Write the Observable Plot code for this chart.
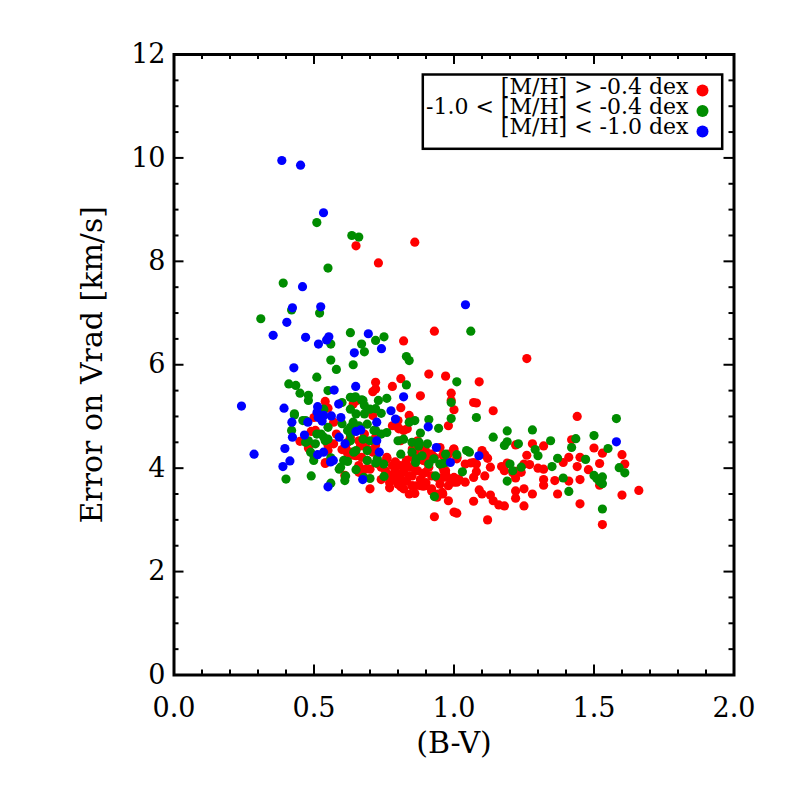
<!DOCTYPE html>
<html><head><meta charset="utf-8">
<script src="https://cdn.jsdelivr.net/npm/d3@7"></script>
<script src="https://cdn.jsdelivr.net/npm/@observablehq/plot@0.6"></script>
<style>html,body{margin:0;padding:0;background:#fff;}</style>
</head><body><div id="chart"></div>
<script>
// [M/H] > -0.4 dex : [B-V, error on Vrad]
const metalRich = [
[0.65,8.30],[0.86,8.37],[0.73,7.97],[0.82,6.46],[0.93,6.65],[1.26,6.12],[0.91,5.82],[0.97,5.78],
[0.72,5.66],[0.72,5.53],[0.71,5.48],[0.78,5.58],[0.81,5.73],[0.88,5.40],[0.81,5.17],[0.54,5.29],
[0.55,5.16],[0.50,4.98],[0.49,4.71],[0.48,4.39],[0.45,4.52],[0.54,4.09],[0.61,3.86],[0.70,3.60],
[0.77,3.62],[0.80,3.69],[0.84,3.50],[0.86,3.51],[0.85,3.66],[0.89,3.65],[0.93,3.06],[0.98,3.37],
[1.00,3.15],[1.09,5.67],[0.99,5.45],[1.00,5.13],[1.07,5.27],[1.08,5.26],[1.14,5.11],[0.98,4.82],
[1.44,5.00],[1.42,4.55],[1.22,4.45],[1.28,4.47],[1.32,4.43],[1.26,4.25],[1.50,4.39],[1.53,4.29],
[1.60,4.26],[1.61,4.08],[1.41,4.21],[1.45,4.21],[1.52,4.09],[1.39,4.11],[1.44,4.03],[1.48,3.97],
[1.45,3.78],[1.52,3.67],[1.41,3.75],[1.36,3.76],[1.37,3.50],[1.32,3.67],[1.28,3.50],[1.25,3.27],
[1.25,3.60],[1.22,3.56],[1.22,3.42],[1.18,3.27],[1.12,3.00],[1.45,3.31],[1.60,3.48],[1.66,3.57],
[1.53,2.91],[1.07,3.36],[1.01,3.13],[1.00,4.37],[1.10,4.34],[1.11,4.26],[1.12,4.19],[1.16,3.29],
[1.14,3.37],[1.13,3.48],[1.10,3.50],[1.09,3.58],[1.17,4.03],[1.19,4.10],[1.18,3.95],[1.13,4.02],
[1.11,3.85],[1.08,3.93],[1.06,4.10],[1.08,4.08],[1.25,4.08],[1.27,4.07],[1.30,4.00],[1.32,3.98],
[1.24,3.92],[1.22,3.94],[1.21,3.91],[0.96,4.02],[0.97,3.89],[1.01,3.73],[1.04,3.73],[0.94,3.50],
[0.96,3.50],[0.57,4.47],[0.60,4.36],[0.62,4.50],[0.63,4.31],[0.65,4.24],[0.67,4.21],[0.69,4.37],
[0.69,4.15],[0.71,4.31],[0.76,4.21],[0.75,4.11],[0.78,4.05],[0.74,4.02],[0.76,3.89],[0.79,3.95],
[0.81,4.05],[0.81,3.89],[0.82,3.92],[0.84,4.02],[0.86,4.08],[0.87,3.95],[0.85,3.85],[0.89,3.89],
[0.91,4.02],[0.92,3.85],[0.94,3.82],[0.97,3.95],[0.82,4.73],[0.80,4.79],[0.87,4.53],[0.88,4.40],
[0.91,4.27],[0.93,4.21],[0.97,4.15],[1.00,3.82],[0.98,3.66],[0.94,3.44],[1.00,3.73],[0.99,5.31],
[0.58,4.66],[0.63,4.60],[0.66,4.53],[0.68,4.66],[0.72,4.60],[0.71,5.02],[0.78,4.82],[0.80,4.92],
[0.84,5.02],[0.57,4.89],[0.64,5.24],[0.55,4.45],[0.55,4.34],[0.62,4.29],[0.64,4.25],[0.80,3.80],
[0.83,3.75],[0.78,3.82],[0.88,3.78],[0.90,3.72],[0.92,3.60],[0.79,4.12],[0.83,4.15],[0.85,4.22],
[0.73,4.08],[0.70,3.98],[0.66,3.92],[0.86,4.32],[0.90,4.13],[0.95,4.40],[0.77,3.72],[0.74,3.78],
[0.82,3.60],[0.84,3.85],[0.96,4.25],[0.89,4.15],[0.92,4.27],[0.95,4.08],[0.98,4.27],[1.01,4.18],
[1.04,4.08],[1.07,4.11],[0.80,3.76],[0.81,3.64],[0.85,3.66],[0.88,3.66],[0.92,3.56],[0.95,3.69],
[0.96,3.82],[0.99,3.76],[1.07,3.82],[1.22,3.81],[1.32,3.78],
[0.505,4.73],[0.613,4.40],[0.666,4.43],[0.684,4.53],[0.702,4.34],[0.541,4.11],[0.684,3.98],[0.654,5.31],
[0.66,4.05],[0.72,4.45],[0.803,4.76],[0.833,4.76],[0.809,4.53],[0.851,4.37],[0.898,4.34],[0.761,4.18],
[0.791,4.11],[0.827,4.05],[0.863,3.95],[0.755,3.95],[0.785,3.89],[0.898,3.92],[0.964,3.95],[0.976,3.82],
[1.011,4.21],[1.017,3.79],[0.999,4.37],[0.809,3.79],[0.863,3.66],[0.898,3.66],[0.958,3.53],[0.91,4.08]
];
// -1.0 < [M/H] < -0.4 dex
const metalMid = [
[0.51,8.75],[0.635,8.50],[0.66,8.47],[0.55,7.87],[0.39,7.58],[0.42,7.06],[0.52,7.00],[0.31,6.89],
[0.63,6.62],[0.75,6.54],[0.72,6.47],[0.56,6.40],[0.67,6.40],[0.68,6.25],[0.83,6.16],[0.84,6.08],
[0.56,6.09],[0.64,6.00],[0.58,5.91],[0.51,5.76],[1.01,5.67],[0.41,5.63],[0.435,5.60],[0.45,5.45],
[0.48,5.41],[0.48,5.31],[0.55,5.50],[0.83,5.61],[0.64,5.36],[0.67,5.32],[0.76,5.35],[0.73,5.31],
[0.43,5.05],[0.42,4.73],[0.40,3.79],[0.49,3.85],[0.46,4.92],[0.48,4.53],[0.50,4.24],[0.59,3.98],
[0.56,3.71],[0.61,3.76],[0.93,3.45],[1.06,6.65],[0.99,5.27],[1.08,4.98],[0.99,4.96],[0.945,4.77],
[1.58,4.96],[1.19,4.72],[1.28,4.74],[1.14,4.60],[1.50,4.63],[1.435,4.57],[1.42,4.40],[1.345,4.53],
[1.19,4.51],[1.18,4.44],[1.23,4.47],[1.29,4.36],[1.30,4.24],[1.55,4.38],[1.59,4.01],[1.61,3.91],
[1.47,4.17],[1.37,4.19],[1.50,3.86],[1.51,3.80],[1.53,3.83],[1.52,3.74],[1.53,3.70],[1.39,3.81],
[1.41,3.55],[1.53,3.21],[1.20,4.08],[1.21,3.95],[1.24,4.02],[1.19,3.75],[1.35,4.03],[1.03,3.93],
[0.97,4.27],[1.01,4.26],[1.045,4.34],[1.055,4.31],[0.96,4.09],[0.91,4.94],[0.88,4.68],[0.60,5.27],
[0.60,4.86],[0.63,4.79],[0.63,4.66],[0.51,4.66],[0.525,4.66],[0.54,4.53],[0.55,4.56],[0.62,4.13],
[0.65,3.97],[0.675,5.31],[0.68,5.21],[0.65,5.05],[0.68,5.05],[0.72,5.15],[0.74,5.06],[0.69,4.85],
[0.66,4.82],[0.64,4.89],[0.72,4.73],[0.74,4.66],[0.76,4.69],[0.84,4.89],[0.86,4.92],[0.80,4.53],
[0.82,4.56],[0.85,4.50],[0.875,4.50],[0.905,4.47],[0.63,4.53],[0.675,4.56],[0.65,4.34],[0.69,4.34],
[0.81,4.27],[0.85,4.31],[0.865,4.18],[0.91,4.08],[0.95,4.08],[0.75,3.84],[0.70,3.80],[0.63,5.37],
[0.55,4.79],[0.43,5.03],[0.47,4.50],
[0.47,4.92],[0.535,5.14],[0.63,5.14],[0.648,5.38],[0.70,5.14],[0.535,4.60],[0.505,4.47],[0.62,4.73],
[0.70,4.53],[0.714,4.73],[0.642,4.31],[0.606,4.15],[0.595,4.02],[0.69,4.15],[0.488,4.31],[0.499,4.15],
[0.613,3.85],[0.678,3.82],[0.749,4.08],[0.56,4.20],[0.72,4.10],[0.874,4.43],[0.886,4.24],[0.863,4.11],
[0.928,4.18],[0.970,4.11],[0.934,3.85],[0.726,4.18]
];
// [M/H] < -1.0 dex
const metalPoor = [
[0.385,9.95],[0.452,9.86],[0.534,8.94],[0.459,7.51],[0.423,7.10],[0.524,7.12],[0.403,6.82],[0.354,6.57],
[0.470,6.53],[0.694,6.60],[0.553,6.54],[0.545,6.48],[0.516,6.40],[0.741,6.31],[0.644,6.23],[1.041,7.16],
[0.428,5.94],[0.572,5.51],[0.649,5.58],[0.820,5.38],[0.241,5.20],[0.393,5.16],[0.513,5.19],[0.588,5.24],
[0.421,4.89],[0.423,4.60],[0.396,4.38],[0.286,4.27],[0.414,4.14],[0.389,4.03],[0.466,4.64],[0.478,4.89],
[0.511,5.08],[0.515,4.98],[0.529,4.91],[0.513,4.26],[0.534,4.31],[0.559,4.12],[0.569,4.15],[0.550,3.64],
[0.596,4.98],[0.562,5.01],[0.590,4.60],[0.611,4.47],[0.650,4.71],[0.667,4.74],[0.724,4.89],[0.724,4.53],
[0.733,4.31],[0.775,5.11],[0.791,4.95],[0.674,3.78],[0.908,4.80],[0.937,4.40],[0.987,4.11],[1.089,4.24],
[1.580,4.51],[0.535,5.02]
];

const seriesColors = ["#ff0000", "#008c00", "#0000ff"];
const legendLabels = ["[M/H] > -0.4 dex", "-1.0 < [M/H] < -0.4 dex", "[M/H] < -1.0 dex"];
const xMajor = [0.0, 0.5, 1.0, 1.5, 2.0];
const xMinor = [0.1,0.2,0.3,0.4,0.6,0.7,0.8,0.9,1.1,1.2,1.3,1.4,1.6,1.7,1.8,1.9];
const yMajor = [0, 2, 4, 6, 8, 10, 12];
const yMinor = [0.5,1,1.5,2.5,3,3.5,4.5,5,5.5,6.5,7,7.5,8.5,9,9.5,10.5,11,11.5];
const xTitle = "(B-V)";
const yTitle = "Error on Vrad [km/s]";

const toRows = arr => arr.map(([bv, err]) => ({bv, err}));

const W = 786, H = 786, mL = 173.5, mR = 52.5, mT = 54, mB = 111.5;
const innerW = W - mL - mR, innerH = H - mT - mB;
const majLen = 10, minLen = 5;
const tickStyle = {stroke: "black", strokeWidth: 2};

const dotMarks = [metalRich, metalMid, metalPoor].map((arr, i) =>
  Plot.dot(toRows(arr), {x: "bv", y: "err", r: 4.6, fill: seriesColors[i], stroke: "none"}));

const legendDots = seriesColors.map((c, i) =>
  Plot.dot([legendLabels[i]], {frameAnchor: "top-right", dx: -31.5, dy: 36 + i * 20.5, r: 6, fill: c}));

const chart = Plot.plot({
  width: W, height: H,
  marginLeft: mL, marginRight: mR, marginTop: mT, marginBottom: mB,
  x: {domain: [0, 2]},
  y: {domain: [0, 12]},
  style: {fontFamily: "'DejaVu Serif', serif", fontSize: "27px", color: "black", background: "white"},
  marks: [
    Plot.axisX(xMajor, {anchor: "bottom", tickSize: 0, tickPadding: 23, tickFormat: d => d.toFixed(1), label: null}),
    Plot.axisY(yMajor, {anchor: "left", tickSize: 0, tickPadding: 8.5, tickFormat: d => String(d), label: null}),
    ...dotMarks,
    Plot.ruleX(xMajor, {x: d => d, insetTop: innerH - majLen, ...tickStyle}),
    Plot.ruleX(xMajor, {x: d => d, insetBottom: innerH - majLen, ...tickStyle}),
    Plot.ruleX(xMinor, {x: d => d, insetTop: innerH - minLen, ...tickStyle}),
    Plot.ruleX(xMinor, {x: d => d, insetBottom: innerH - minLen, ...tickStyle}),
    Plot.ruleY(yMajor, {y: d => d, insetRight: innerW - majLen, ...tickStyle}),
    Plot.ruleY(yMajor, {y: d => d, insetLeft: innerW - majLen, ...tickStyle}),
    Plot.ruleY(yMinor, {y: d => d, insetRight: innerW - minLen, ...tickStyle}),
    Plot.ruleY(yMinor, {y: d => d, insetLeft: innerW - minLen, ...tickStyle}),
    Plot.frame({stroke: "black", strokeWidth: 3}),
    Plot.frame({insetLeft: 248.8, insetRight: 11.8, insetTop: 20, insetBottom: innerH - 94.3, fill: "white", stroke: "black", strokeWidth: 2.5}),
    Plot.text([legendLabels.join("\n")], {frameAnchor: "top-right", textAnchor: "end", lineAnchor: "top", dx: -45.5, dy: 25.4, fontSize: 22, lineHeight: 20 / 22, fill: "black"}),
    ...legendDots,
    Plot.text([xTitle], {frameAnchor: "bottom", dy: 68.5, lineAnchor: "middle", fontSize: 30, fill: "black"}),
    Plot.text([yTitle], {frameAnchor: "left", rotate: -90, dx: -82, lineAnchor: "middle", textAnchor: "middle", fontSize: 30, fill: "black"})
  ]
});
document.getElementById("chart").appendChild(chart);
</script>
</body></html>
